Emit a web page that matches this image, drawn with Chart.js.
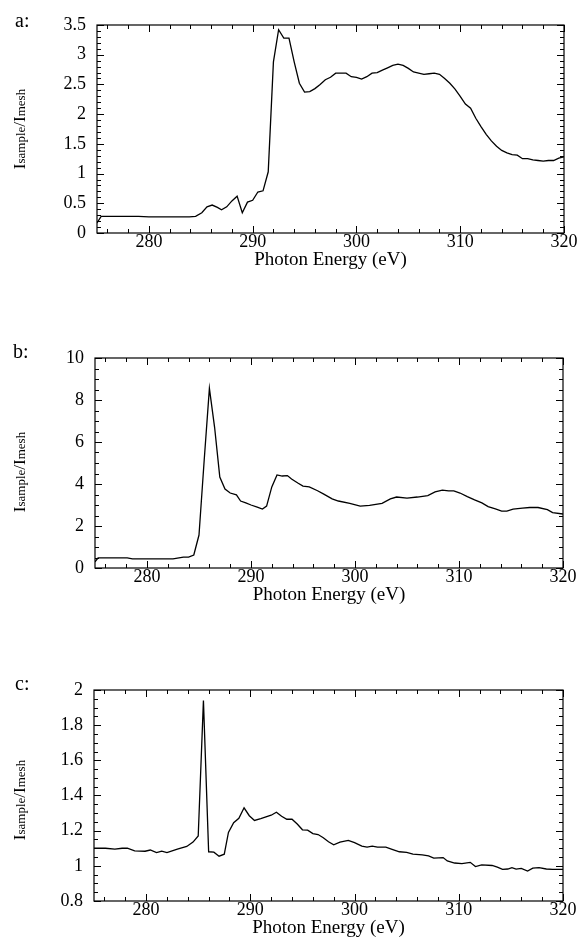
<!DOCTYPE html>
<html>
<head>
<meta charset="utf-8">
<script src="https://cdn.jsdelivr.net/npm/chart.js@4.4.1/dist/chart.umd.min.js"></script>
<style>
  body { margin: 0; background: #fff; width: 577px; height: 938px; position: relative; overflow: hidden; }
  canvas { position: absolute; left: 0; }
</style>
</head>
<body>
<canvas id="chartA" width="577" height="280" style="top:0px"></canvas>
<canvas id="chartB" width="577" height="280" style="top:333px"></canvas>
<canvas id="chartC" width="577" height="275" style="top:665px"></canvas>
<script>
// shared x axis
const xTicks = [280, 290, 300, 310, 320];

// panel a
const energyA = [275.0, 275.4, 276.0, 277.0, 278.0, 279.0, 280.0, 281.0, 282.0, 283.0, 283.9, 284.5,
  285.1, 285.6, 286.1, 286.6, 287.0, 287.5, 288.0, 288.5, 289.0, 289.5, 290.0, 290.5, 291.0, 291.5,
  292.0, 292.5, 293.0, 293.5, 294.0, 294.5, 295.0, 295.5, 296.0, 296.5, 297.0, 297.5, 298.0, 298.5,
  299.0, 299.5, 300.0, 300.5, 301.0, 301.5, 302.0, 302.5, 303.0, 303.5, 304.0, 304.5, 305.0, 305.5,
  306.0, 306.5, 307.0, 307.5, 308.0, 308.5, 309.0, 309.5, 310.0, 310.5, 311.0, 311.5, 312.0, 312.5,
  313.0, 313.5, 314.0, 314.5, 315.0, 315.5, 316.0, 316.5, 317.0, 317.5, 318.0, 318.5, 319.0, 319.5, 320.0];
const intensityA = [0.17, 0.28, 0.28, 0.28, 0.28, 0.28, 0.27, 0.27, 0.27, 0.27, 0.27, 0.28,
  0.34, 0.44, 0.47, 0.43, 0.39, 0.44, 0.54, 0.62, 0.34, 0.52, 0.55, 0.69, 0.71, 1.03,
  2.88, 3.42, 3.28, 3.28, 2.88, 2.52, 2.37, 2.38, 2.43, 2.50, 2.58, 2.62, 2.69, 2.69,
  2.69, 2.63, 2.62, 2.59, 2.63, 2.69, 2.70, 2.74, 2.78, 2.82, 2.84, 2.82, 2.77, 2.71,
  2.69, 2.67, 2.68, 2.69, 2.67, 2.60, 2.52, 2.42, 2.30, 2.17, 2.10, 1.93, 1.79, 1.66,
  1.55, 1.46, 1.39, 1.35, 1.32, 1.31, 1.25, 1.25, 1.23, 1.22, 1.21, 1.22, 1.22, 1.26, 1.28];
const yTicksA = [0, 0.5, 1, 1.5, 2, 2.5, 3, 3.5];

// panel b
const energyB = [275.0, 275.3, 276.0, 277.0, 278.1, 278.6, 279.5, 280.5, 281.5, 282.5, 283.5, 284.0,
  284.5, 285.0, 285.5, 286.0, 286.5, 287.0, 287.5, 288.0, 288.6, 289.0, 289.5, 290.0, 290.6, 291.1,
  291.5, 292.0, 292.5, 293.0, 293.5, 293.9, 294.5, 295.0, 295.6, 296.4, 297.0, 297.8, 298.4, 299.5,
  300.5, 301.4, 302.6, 303.4, 304.0, 305.0, 306.0, 307.0, 307.7, 308.4, 309.0, 309.5, 310.1, 310.8,
  311.5, 312.2, 312.8, 313.5, 314.1, 314.6, 315.2, 316.1, 316.8, 317.6, 318.5, 319.0, 320.0];
const intensityB = [0.29, 0.48, 0.48, 0.48, 0.48, 0.43, 0.43, 0.43, 0.43, 0.43, 0.52, 0.52,
  0.62, 1.57, 5.14, 8.55, 6.7, 4.33, 3.76, 3.57, 3.48, 3.19, 3.10, 3.00, 2.90, 2.81,
  2.95, 3.86, 4.43, 4.38, 4.40, 4.24, 4.05, 3.90, 3.86, 3.68, 3.52, 3.29, 3.19, 3.08,
  2.95, 2.98, 3.08, 3.29, 3.38, 3.33, 3.38, 3.45, 3.62, 3.71, 3.67, 3.67, 3.57, 3.40,
  3.24, 3.10, 2.92, 2.81, 2.71, 2.71, 2.80, 2.85, 2.88, 2.88, 2.78, 2.64, 2.57];
const yTicksB = [0, 2, 4, 6, 8, 10];

// panel c
const energyC = [275.0, 276.1, 277.0, 277.7, 278.2, 278.9, 279.9, 280.4, 281.0, 281.5, 282.0, 283.0,
  283.9, 284.5, 285.0, 285.5, 286.0, 286.5, 287.0, 287.5, 287.9, 288.4, 288.9, 289.4, 289.9, 290.4,
  291.0, 291.5, 292.0, 292.5, 293.0, 293.5, 294.0, 294.5, 295.0, 295.5, 296.0, 296.5, 297.0, 297.5,
  298.0, 298.6, 299.4, 300.0, 300.7, 301.2, 301.7, 302.2, 303.0, 303.6, 304.3, 305.0, 305.6, 306.5,
  307.1, 307.6, 308.5, 308.9, 309.6, 310.3, 311.1, 311.6, 312.2, 313.2, 313.7, 314.2, 314.7, 315.1,
  315.5, 316.0, 316.6, 317.1, 317.7, 318.4, 319.0, 320.0];
const intensityC = [1.100, 1.100, 1.095, 1.100, 1.100, 1.085, 1.083, 1.090, 1.075, 1.083, 1.075, 1.095,
  1.110, 1.135, 1.170, 1.940, 1.080, 1.078, 1.055, 1.066, 1.190, 1.245, 1.270, 1.330, 1.285, 1.258,
  1.268, 1.278, 1.288, 1.305, 1.282, 1.265, 1.265, 1.238, 1.205, 1.203, 1.183, 1.178, 1.160, 1.137,
  1.120, 1.135, 1.145, 1.132, 1.112, 1.106, 1.112, 1.106, 1.106, 1.094, 1.080, 1.076, 1.066, 1.062,
  1.057, 1.044, 1.047, 1.028, 1.016, 1.013, 1.020, 0.996, 1.005, 1.002, 0.993, 0.980, 0.982, 0.990,
  0.981, 0.985, 0.970, 0.987, 0.990, 0.982, 0.980, 0.980];
const yTicksC = [0.8, 1, 1.2, 1.4, 1.6, 1.8, 2];

const SERIF = "'Liberation Serif', 'Times New Roman', serif";
Chart.defaults.font.family = SERIF;
Chart.defaults.color = "#000";

function ticksAt(min, max, step) {
  const out = [];
  for (let k = Math.ceil(min / step - 1e-6); k <= Math.floor(max / step + 1e-6); k++) out.push(k * step);
  return out;
}
function isMultiple(v, step) {
  const r = v / step;
  return Math.abs(r - Math.round(r)) < 1e-6;
}

// frame, inward ticks on all four sides, panel letter and the y title
const framePlugin = {
  id: "frame",
  afterDraw(chart, args, o) {
    const { ctx, chartArea: a, scales: { x, y } } = chart;
    ctx.save();
    ctx.strokeStyle = "#000";
    ctx.lineWidth = 1.2;
    ctx.strokeRect(a.left, a.top, a.right - a.left, a.bottom - a.top);

    ctx.lineWidth = 1;
    ctx.beginPath();
    ticksAt(x.min, x.max, o.xMinor).forEach(v => {
      const len = isMultiple(v, o.xMajor) ? 7 : 4;
      const px = Math.round(x.getPixelForValue(v)) + 0.5;
      ctx.moveTo(px, a.bottom); ctx.lineTo(px, a.bottom - len);
      ctx.moveTo(px, a.top); ctx.lineTo(px, a.top + len);
    });
    ticksAt(y.min, y.max, o.yMinor).forEach(v => {
      const len = isMultiple(v, o.yMajor) ? 7 : 4;
      const py = Math.round(y.getPixelForValue(v)) + 0.5;
      ctx.moveTo(a.left, py); ctx.lineTo(a.left + len, py);
      ctx.moveTo(a.right, py); ctx.lineTo(a.right - len, py);
    });
    ctx.stroke();

    // panel letter
    ctx.fillStyle = "#000";
    ctx.font = "20px " + SERIF;
    ctx.textAlign = "left";
    ctx.textBaseline = "middle";
    ctx.fillText(o.letter, o.letterX, o.letterY);

    // y title: I_sample / I_mesh
    const parts = [["I", 17], ["sample", 13], ["/", 17], ["I", 17], ["mesh", 13]];
    let total = 0;
    parts.forEach(p => { ctx.font = p[1] + "px " + SERIF; total += ctx.measureText(p[0]).width; });
    ctx.translate(o.titleX, o.titleY);
    ctx.rotate(-Math.PI / 2);
    ctx.textBaseline = "alphabetic";
    let pos = -total / 2;
    parts.forEach(p => {
      ctx.font = p[1] + "px " + SERIF;
      ctx.fillText(p[0], pos, 0);
      pos += ctx.measureText(p[0]).width;
    });
    ctx.restore();
  }
};

function makePanel(id, energy, intensity, yTicks, g) {
  const canvas = document.getElementById(id);
  const canvasTop = parseFloat(canvas.style.top);
  const H = canvas.height;
  return new Chart(canvas, {
    type: "line",
    data: {
      datasets: [{
        data: energy.map((e, i) => ({ x: e, y: intensity[i] })),
        borderColor: "#000",
        borderWidth: 1.3,
        pointRadius: 0,
        tension: 0,
        fill: false
      }]
    },
    options: {
      responsive: false,
      animation: false,
      events: [],
      layout: { padding: { top: g.top - canvasTop, right: 577 - g.right, bottom: 0, left: 0 } },
      plugins: {
        legend: { display: false },
        tooltip: { enabled: false },
        frame: {
          letter: g.letter, letterX: g.letterX, letterY: g.letterY - canvasTop,
          titleX: 25, titleY: g.titleY - canvasTop,
          xMinor: 2, xMajor: 10, yMinor: g.yMinor, yMajor: g.yMajor
        }
      },
      scales: {
        x: {
          type: "linear",
          min: 275,
          max: 320,
          grid: { display: false, drawTicks: false },
          border: { display: false },
          afterBuildTicks: s => { s.ticks = xTicks.map(v => ({ value: v })); },
          afterFit: s => { s.height = canvasTop + H - g.bottom; s.paddingLeft = 0; s.paddingRight = 0; },
          ticks: { font: { size: 18, lineHeight: 1 }, padding: 0, maxRotation: 0, callback: v => String(v) },
          title: {
            display: true,
            text: "Photon Energy (eV)",
            font: { size: 19, lineHeight: 1.2 },
            padding: { top: 0, bottom: canvasTop + H - (g.bottom + 26.6) - 11.4 }
          }
        },
        y: {
          type: "linear",
          min: yTicks[0],
          max: yTicks[yTicks.length - 1],
          grid: { display: false, drawTicks: false },
          border: { display: false },
          afterBuildTicks: s => { s.ticks = yTicks.map(v => ({ value: v })); },
          afterFit: s => { s.width = g.left; s.paddingTop = 0; s.paddingBottom = 0; },
          ticks: { font: { size: 18 }, padding: 11, callback: v => String(v) }
        }
      }
    },
    plugins: [framePlugin]
  });
}

makePanel("chartA", energyA, intensityA, yTicksA,
  { top: 25, bottom: 233, left: 97, right: 564, letter: "a:", letterX: 15, letterY: 22, titleY: 129, yMinor: 0.1, yMajor: 0.5 });
makePanel("chartB", energyB, intensityB, yTicksB,
  { top: 358, bottom: 568, left: 95, right: 563, letter: "b:", letterX: 13, letterY: 353, titleY: 472, yMinor: 0.5, yMajor: 2 });
makePanel("chartC", energyC, intensityC, yTicksC,
  { top: 690, bottom: 901, left: 94, right: 563, letter: "c:", letterX: 15, letterY: 685, titleY: 800, yMinor: 0.05, yMajor: 0.2 });
</script>
</body>
</html>
